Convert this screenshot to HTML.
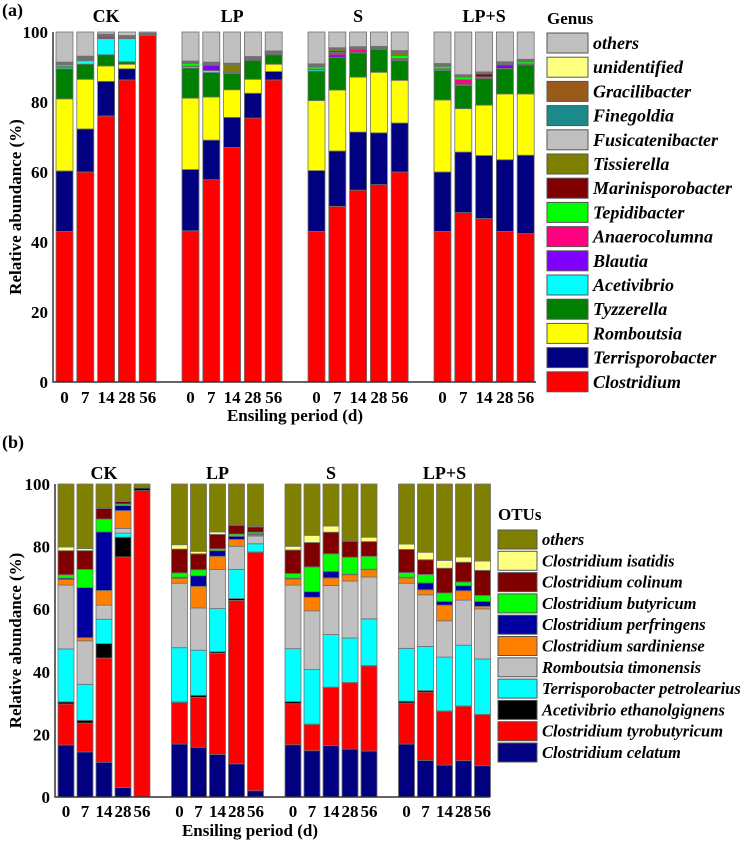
<!DOCTYPE html>
<html><head><meta charset="utf-8"><style>
body{margin:0;background:#fff}
svg, svg text{font-family:"Liberation Serif","Times New Roman",serif !important;font-weight:bold}
</style></head><body>
<svg id="chart" width="749" height="842" viewBox="0 0 749 842" xmlns="http://www.w3.org/2000/svg" font-family="'Liberation Serif', 'Times New Roman', serif" font-weight="bold">
<g id="pa"></g>
<g id="pb"></g>
</svg>
<script>
const groups = ["CK","LP","S","LP+S"];
const days = ["0","7","14","28","56"];
const yTicks = [0,20,40,60,80,100];
// Panel (a) genus cumulative tops (%), samples: CK0..56, LP0..56, S0..56, LP+S0..56
const genusNames = ["Clostridium","Terrisporobacter","Romboutsia","Tyzzerella","Acetivibrio","Blautia","Anaerocolumna","Tepidibacter","Marinisporobacter","Tissierella","Fusicatenibacter","Finegoldia","Gracilibacter","unidentified","others"];
const genusColors = ["#ff0000","#000080","#ffff00","#008000","#00ffff","#8000ff","#ff0080","#00ff00","#800000","#808000","#c0c0c0","#1a8a8a","#9a5a1a","#ffff80","#c0c0c0"];
const gClostridium = [43,60,76,86.3,99, 43.2,57.8,67,75.4,86.3, 43,50.2,54.8,56.4,60, 43,48.4,46.7,43,42.4];
const gTerrisporobacter = [60.3,72.3,85.9,89.5,99, 60.7,69.1,75.6,82.5,88.7, 60.4,66,71.4,71.2,74, 60,65.7,64.7,63.5,64.8];
const gRomboutsia = [80.9,86.5,90.3,90.8,99, 81.1,81.4,83.5,86.5,90.8, 80.4,83.4,87.1,88.5,86.2, 80.6,78.1,79.1,82.3,82.3];
const gTyzzerella = [89.5,90.8,93.5,91.5,99, 89.7,88.4,88.1,91.9,93.5, 88.8,92.7,94,95,91.8, 89,84.7,86.7,89.5,90.6];
const gAcetivibrio = [89.9,91.8,98.1,98.1,99, 90.1,89,88.3,92,93.6, 89.2,92.8,94.1,95,91.9, 89.3,84.9,86.8,89.6,90.7];
const gBlautia = [90,91.9,98.1,98.1,99, 90.2,90.5,88.4,92.1,93.7, 89.3,93.5,94.2,95,92, 89.4,85,86.9,90.6,90.8];
const gAnaerocolumna = [90.1,92,98.6,98.2,99, 90.3,90.6,88.5,92.2,93.8, 89.4,94,95,95.1,92.4, 89.5,86.4,87,90.7,90.9];
const gTepidibacter = [90.7,92.1,98.7,98.3,99, 91,90.7,88.6,92.3,93.9, 90,94.2,95.1,95.2,93.3, 90.2,87.1,87.2,90.8,91.5];
const gMarinisporobacter = [90.8,92.3,98.8,98.4,99.1, 91.1,90.8,88.8,92.4,94, 90.2,94.6,95.2,95.3,93.4, 90.3,87.2,88,90.9,91.6];
const gTissierella = [90.9,92.6,98.9,98.5,99.2, 91.2,90.9,90.6,92.5,94.1, 90.4,95,95.3,95.4,94.2, 90.4,87.3,88.1,91,91.7];
const gFusicatenibacter = [90.9,92.6,98.9,98.5,99.2, 91.2,90.9,90.6,92.5,94.1, 90.4,95,95.3,95.4,94.2, 90.4,87.3,88.1,91,91.7];
const gFinegoldia = [91,92.7,99,98.6,99.3, 91.3,91,90.7,92.6,94.2, 90.5,95.1,95.4,95.5,94.3, 90.6,87.4,88.2,91.1,91.8];
const gGracilibacter = [91.2,92.9,99.2,98.8,99.5, 91.5,91.2,90.9,92.8,94.4, 90.7,95.3,95.6,95.7,94.5, 90.8,87.6,88.4,91.3,92];
const gUnidentified = [91.4,93.1,99.4,99,99.7, 91.7,91.4,91.1,93,94.6, 90.9,95.5,95.8,95.9,94.7, 91,87.8,88.6,91.5,92.2];
const gOthers = [100,100,100,100,100, 100,100,100,100,100, 100,100,100,100,100, 100,100,100,100,100];
// Panel (b) OTU cumulative tops (%)
const otuNames = ["Clostridium celatum","Clostridium tyrobutyricum","Acetivibrio ethanolgignens","Terrisporobacter petrolearius","Romboutsia timonensis","Clostridium sardiniense","Clostridium perfringens","Clostridium butyricum","Clostridium colinum","Clostridium isatidis","others"];
const otuColors = ["#000080","#ff0000","#000000","#00ffff","#c0c0c0","#ff8000","#0000a0","#00ff00","#800000","#ffff80","#808000"];
const oCelatum = [16.6,14.4,11.1,3,0, 16.9,15.9,13.6,10.6,2, 16.7,14.8,16.4,15.3,14.7, 16.9,11.7,10.2,11.6,10];
const oTyro = [29.7,23.6,44.4,76.7,97.9, 30.2,31.8,45.9,62.8,78.2, 29.8,23.2,35,36.5,41.9, 30,33.5,27.4,29,26.3];
const oAceti = [30.4,24.5,49,83,98.7, 30.4,32.5,46.4,63.4,78.3, 30.5,23.3,35.1,36.6,42, 30.6,34,27.5,29.1,26.4];
const oTerri = [47.3,36,56.8,84.3,98.7, 47.7,46.9,60.2,72.7,80.9, 47.4,40.7,51.9,50.8,56.9, 47.5,48.1,44.7,48.5,44.1];
const oRomb = [67.7,49.9,61.3,85.8,98.7, 68.3,60.4,72.7,80.1,83.4, 67.7,59.5,67.6,69,70.3, 68.3,64.6,56.3,62.9,60.1];
const oSard = [69.5,50.9,66,91.5,98.7, 69.9,67.3,76.9,82.3,83.8, 69.6,63.8,70,71,72.6, 70,66.2,61.3,65.9,60.9];
const oPerf = [69.9,66.9,84.7,93.1,98.7, 70.2,70.7,78.7,83.3,84.1, 69.9,65.6,72.1,71.2,72.8, 70.2,68.4,62.5,67.5,62.5];
const oButy = [71,72.7,88.8,93.6,98.7, 71.6,72.6,79.3,84,84.6, 71.4,73.5,77.7,76.6,76.9, 71.7,71.1,65.2,68.7,64.4];
const oColinum = [78.7,78.7,92.2,94.4,98.8, 79.2,77.7,83.9,86.8,86.3, 78.9,81.3,84.6,81.7,81.6, 79.1,75.8,73.1,75,72.4];
const oIsatidis = [79.9,79.4,92.4,94.6,98.9, 80.6,78.5,84.7,87,86.6, 80.1,83.6,86.6,81.9,83, 80.8,78.2,75.6,76.7,75.4];
const oOthers = [100,100,100,100,100, 100,100,100,100,100, 100,100,100,100,100, 100,100,100,100,100];

const NS="http://www.w3.org/2000/svg";
const FF="'Liberation Serif', 'Times New Roman', serif";
function mk(parent,tag,attrs,text){const e=document.createElementNS(NS,tag);for(const k in attrs)e.setAttribute(k,attrs[k]);if(tag==='text'){e.setAttribute('font-family',FF);e.setAttribute('font-weight','bold');}if(text!==undefined)e.textContent=text;parent.appendChild(e);return e;}

function drawPanel(g,cfg){
  const y=v=>cfg.y0-(v/100)*(cfg.y0-cfg.y100);
  const bx=(gi,di)=>cfg.gx0+gi*cfg.gPitch+di*cfg.bPitch;
  for(let gi=0;gi<groups.length;gi++){
    for(let di=0;di<days.length;di++){
      const s=gi*5+di;let prev=0;
      for(let k=0;k<cfg.series.length;k++){
        const top=cfg.series[k][s];
        if(top-prev>0.001){
          const r=mk(g,'rect',{x:bx(gi,di),y:y(top),width:cfg.bw,height:y(prev)-y(top),fill:cfg.colors[k],stroke:'#707070','stroke-width':0.8});
          
          
        }
        prev=Math.max(prev,top);
      }
      const t=mk(g,'text',{x:bx(gi,di)+cfg.bw/2,y:cfg.xLabY,'font-size':17,'text-anchor':'middle'},days[di]);
      
      
    }
    const gl=mk(g,'text',{x:bx(gi,0)+(cfg.bPitch*4+cfg.bw)/2,y:cfg.groupY,'font-size':18,'text-anchor':'middle'},groups[gi]);
    
    
  }
  const ax=mk(g,'path',{d:`M${cfg.axX},${cfg.y100} V${cfg.y0} H${cfg.axEnd}`,stroke:'#333',fill:'none','stroke-width':1.5});
  
  
  for(const t of yTicks){
    const tl=mk(g,'text',{x:cfg.axX-5,y:y(t)+6,'font-size':17,'text-anchor':'end'},String(t));
    
    
  }
  const yt=mk(g,'text',{x:0,y:0,'font-size':17,'text-anchor':'middle',transform:`translate(${cfg.yTitleX},${(cfg.y0+cfg.y100)/2}) rotate(-90)`},'Relative abundance (%)');
  
  
  const xt=mk(g,'text',{x:cfg.xTitleX,y:cfg.xTitleY,'font-size':17,'text-anchor':'middle'},'Ensiling period (d)');
  
  
  const pl=mk(g,'text',{x:2,y:cfg.panelY,'font-size':18},cfg.panel);
  
  
  const lt=mk(g,'text',{x:cfg.legX,y:cfg.legTitleY,'font-size':17},cfg.legTitle);
  
  
  const n=cfg.names.length;
  for(let i=0;i<n;i++){
    const k=n-1-i;const yy=cfg.legY0+i*cfg.legPitch;
    const sw=mk(g,'rect',{x:cfg.legX,y:yy,width:cfg.swW,height:cfg.swH,fill:cfg.colors[k],stroke:'#555','stroke-width':1});
    
    
    const tx=mk(g,'text',{x:cfg.legX+cfg.swW+5,y:yy+cfg.swH-4,'font-size':cfg.legFont,'font-style':'italic'},cfg.names[k]);
    
    
  }
}

drawPanel(document.getElementById('pa'),{
  series:[gClostridium,gTerrisporobacter,gRomboutsia,gTyzzerella,gAcetivibrio,gBlautia,gAnaerocolumna,gTepidibacter,gMarinisporobacter,gTissierella,gFusicatenibacter,gFinegoldia,gGracilibacter,gUnidentified,gOthers],
  colors:genusColors,names:genusNames,
  y0:382,y100:32,gx0:56,gPitch:126,bPitch:20.8,bw:17,axX:53,axEnd:536,
  xLabY:403,groupY:22,yTitleX:21,xTitleX:295,xTitleY:421,panel:'(a)',panelY:16,
  legX:547,legTitle:'Genus',legTitleY:24,legY0:33,legPitch:24.2,swW:41,swH:20,legFont:18
});
drawPanel(document.getElementById('pb'),{
  series:[oCelatum,oTyro,oAceti,oTerri,oRomb,oSard,oPerf,oButy,oColinum,oIsatidis,oOthers],
  colors:otuColors,names:otuNames,
  y0:797,y100:484,gx0:58,gPitch:113.5,bPitch:19,bw:16,axX:55,axEnd:490,
  xLabY:817,groupY:479,yTitleX:21,xTitleX:250,xTitleY:836,panel:'(b)',panelY:448,
  legX:498,legTitle:'OTUs',legTitleY:520,legY0:530,legPitch:21.3,swW:39,swH:19,legFont:16.5
});
</script>
</body></html>
